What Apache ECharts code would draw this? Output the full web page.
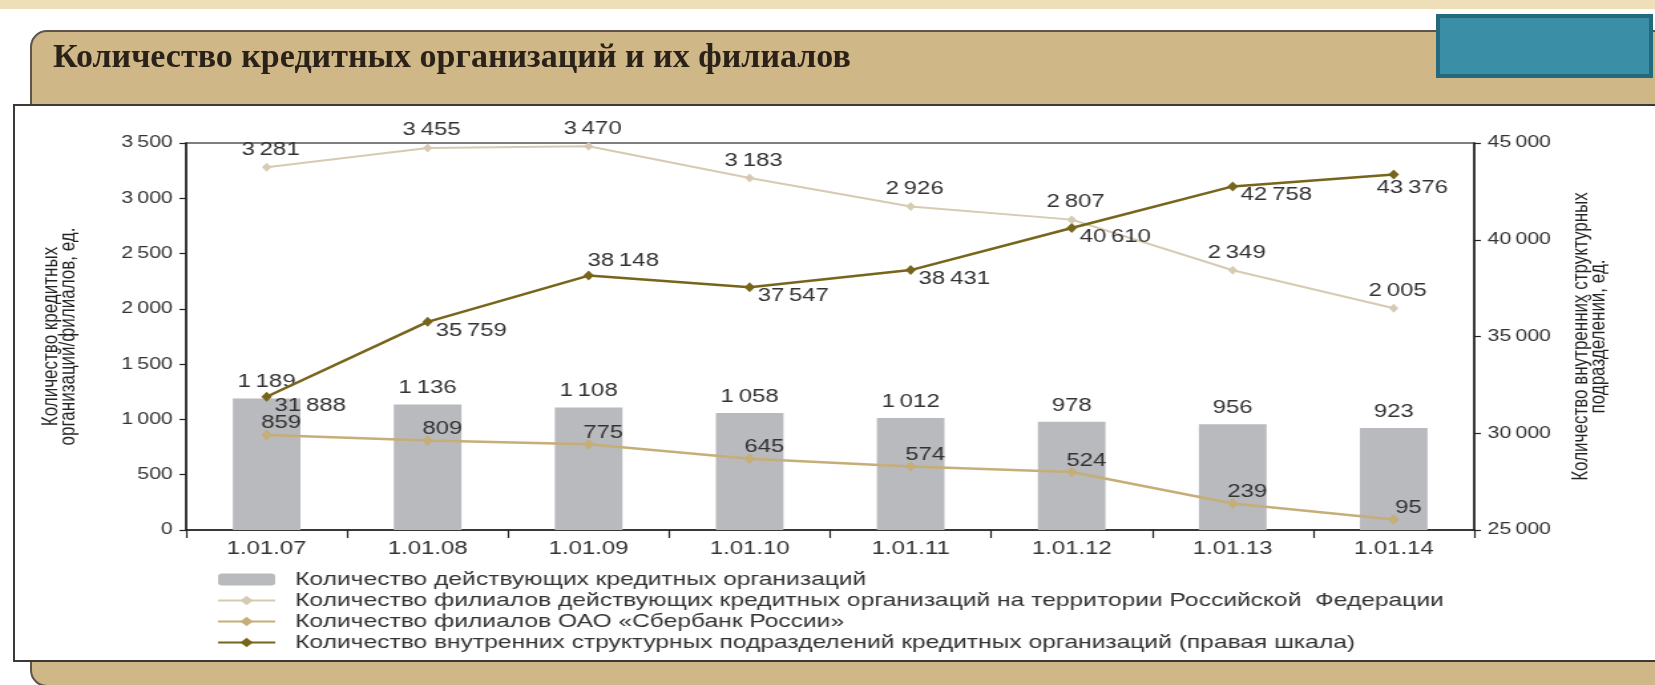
<!DOCTYPE html>
<html>
<head>
<meta charset="utf-8">
<script src="https://cdn.jsdelivr.net/npm/echarts@6/dist/echarts.min.js"></script>
<style>
html, body { margin: 0; padding: 0; background: #fff; overflow: hidden; }
#wrap { position: relative; width: 1655px; height: 685px; }
#bg { position: absolute; left: 0; top: 0; width: 1655px; height: 685px; }
/* исходная картинка растянута по горизонтали, поэтому график рисуется уже и растягивается */
#main { position: absolute; left: 0; top: 0; width: 1245px; height: 685px;
        transform: scaleX(1.32932); transform-origin: 0 0; }
</style>
</head>
<body>
<div id="wrap">
<div id="bg"></div>
<div id="main"></div>
</div>
<script>
var bg = echarts.init(document.getElementById('bg'));
var chart = echarts.init(document.getElementById('main'));

// даты
var categories = ['1.01.07', '1.01.08', '1.01.09', '1.01.10', '1.01.11', '1.01.12', '1.01.13', '1.01.14'];
// количество действующих кредитных организаций
var orgCount = [1189, 1136, 1108, 1058, 1012, 978, 956, 923];
// филиалы действующих КО на территории РФ
var branchCount = [3281, 3455, 3470, 3183, 2926, 2807, 2349, 2005];
// филиалы Сбербанка
var sberBranches = [859, 809, 775, 645, 574, 524, 239, 95];
// внутренние структурные подразделения (правая шкала)
var innerUnits = [31888, 35759, 38148, 37547, 38431, 40610, 42758, 43376];

var seriesNames = [
    'Количество действующих кредитных организаций',
    'Количество филиалов действующих кредитных организаций на территории Российской  Федерации',
    'Количество филиалов ОАО «Сбербанк России»',
    'Количество внутренних структурных подразделений кредитных организаций (правая шкала)'
];

function fmt(v) {
    return String(v).replace(/\B(?=(\d{3})+(?!\d))/g, '\u2009');
}

var font = 'Liberation Sans';
var txt = '#333';
var fs = 18;

// фон слайда
bg.setOption({
    backgroundColor: '#fff',
    animation: false,
    graphic: [
        { type: 'rect', shape: { x: 0, y: 0, width: 1655, height: 9 }, style: { fill: '#efdfb9' } },
        { type: 'rect', shape: { x: 31, y: 31, width: 1660, height: 655, r: [16, 0, 0, 16] },
          style: { fill: '#cfb788', stroke: '#5e5447', lineWidth: 2 } },
        { type: 'rect', shape: { x: 1438, y: 16, width: 213, height: 60 },
          style: { fill: '#3a8fa6', stroke: '#24697c', lineWidth: 4 } },
        { type: 'text', x: 53, y: 58,
          style: { text: 'Количество кредитных организаций и их филиалов', fontFamily: 'Liberation Serif',
                   fontWeight: 'bold', fontSize: 34, fill: '#2a2118', verticalAlign: 'middle' } },
        { type: 'rect', shape: { x: 14, y: 105, width: 1660, height: 556 },
          style: { fill: '#fff', stroke: '#3d3a36', lineWidth: 2 } }
    ]
});

var option = {
    backgroundColor: 'transparent',
    animation: false,
    grid: {
        left: 140,
        right: 136,
        top: 143,
        bottom: 155,
        show: true,
        borderColor: '#555',
        borderWidth: 1.5,
        backgroundColor: 'transparent'
    },
    legend: {
        orient: 'vertical',
        left: 158,
        top: 565,
        itemWidth: 43,
        itemHeight: 12,
        itemGap: 2,
        data: seriesNames,
        textStyle: { fontFamily: font, fontSize: 18.5, color: txt, lineHeight: 19, padding: [0, 0, 0, 10] }
    },
    xAxis: {
        type: 'category',
        data: categories,
        axisLine: { lineStyle: { color: '#222', width: 1.5 } },
        axisTick: { show: true, length: 8, lineStyle: { color: '#222', width: 1.2 } },
        axisLabel: { fontFamily: font, fontSize: fs, color: txt, margin: 10 }
    },
    yAxis: [
        {
            type: 'value',
            min: 0,
            max: 3500,
            interval: 500,
            name: 'Количество кредитных\nорганизаций/филиалов, ед.',
            nameLocation: 'middle',
            nameRotate: 90,
            nameGap: 82,
            nameTextStyle: { fontFamily: font, fontSize: 17, lineHeight: 13, color: '#222' },
            axisLine: { show: true, lineStyle: { color: '#222', width: 1.5 } },
            axisTick: { show: true, length: 5, lineStyle: { color: '#222', width: 1.2 } },
            splitLine: { show: false },
            axisLabel: { fontFamily: font, fontSize: 16, color: txt, margin: 10, formatter: fmt }
        },
        {
            type: 'value',
            min: 25000,
            max: 45000,
            interval: 5000,
            name: 'Количество внутренних структурных\nподразделений, ед.',
            nameLocation: 'middle',
            nameRotate: 90,
            nameGap: 74,
            nameTextStyle: { fontFamily: font, fontSize: 17, lineHeight: 13, color: '#222' },
            axisLine: { show: true, lineStyle: { color: '#222', width: 1.5 } },
            axisTick: { show: true, length: 5, lineStyle: { color: '#222', width: 1.2 } },
            splitLine: { show: false },
            axisLabel: { fontFamily: font, fontSize: 16, color: txt, margin: 10, formatter: fmt }
        }
    ],
    series: [
        {
            name: seriesNames[0],
            type: 'bar',
            barWidth: '42%',
            data: orgCount,
            itemStyle: { color: '#b9babe' },
            label: {
                show: true, position: 'top', distance: 7,
                fontFamily: font, fontSize: fs, color: txt,
                formatter: function (p) { return fmt(p.value); }
            }
        },
        {
            name: seriesNames[1],
            type: 'line',
            data: branchCount,
            symbol: 'diamond',
            symbolSize: [7, 9],
            itemStyle: { color: '#d6cbb2' },
            lineStyle: { color: '#d6cbb2', width: 2 },
            label: {
                show: true, position: 'top', distance: 4, offset: [3, 0],
                fontFamily: font, fontSize: fs, color: txt,
                formatter: function (p) { return fmt(p.value); }
            }
        },
        {
            name: seriesNames[2],
            type: 'line',
            data: sberBranches,
            symbol: 'diamond',
            symbolSize: [8, 11],
            itemStyle: { color: '#c5ae78' },
            lineStyle: { color: '#c5ae78', width: 2.5 },
            label: {
                show: true, position: 'top', distance: 5, offset: [11, 8],
                fontFamily: font, fontSize: fs, color: txt,
                formatter: function (p) { return fmt(p.value); }
            }
        },
        {
            name: seriesNames[3],
            type: 'line',
            yAxisIndex: 1,
            data: innerUnits.map(function (v, i) {
                // у третьей точки подпись сверху, у последней - под точкой
                if (i === 2) return { value: v, label: { position: 'top', offset: [26, 1] } };
                if (i === innerUnits.length - 1) return { value: v, label: { position: 'bottom', distance: 2, offset: [14, -2] } };
                return v;
            }),
            symbol: 'diamond',
            symbolSize: [8, 10],
            itemStyle: { color: '#76651b' },
            lineStyle: { color: '#76651b', width: 2.5 },
            label: {
                show: true, position: 'right', distance: 2, offset: [0, 9],
                fontFamily: font, fontSize: fs, color: txt,
                formatter: function (p) { return fmt(p.value); }
            }
        }
    ]
};

chart.setOption(option);
</script>
</body>
</html>
